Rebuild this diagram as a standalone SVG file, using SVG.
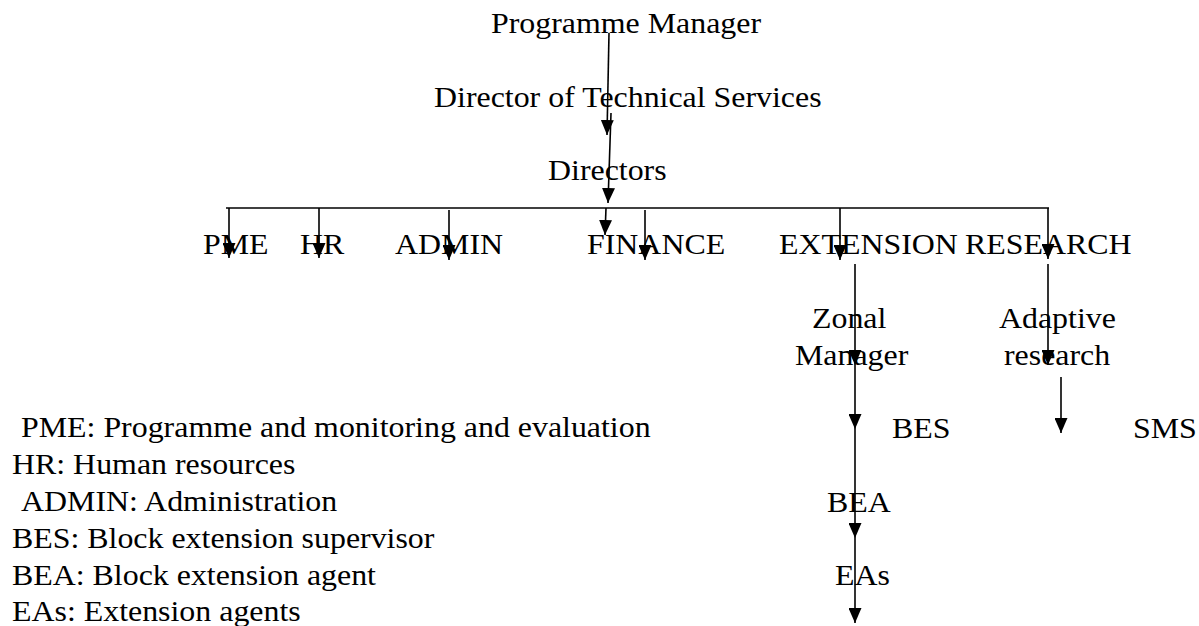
<svg xmlns="http://www.w3.org/2000/svg" width="1199" height="626" viewBox="0 0 1199 626">
<style>
text{font-family:"Liberation Serif","Times New Roman",serif;font-size:29px;fill:#000}
.c{stroke:#000;stroke-width:1.6;fill:none}
.a{marker-end:url(#ah)}
</style>
<defs>
<marker id="ah" viewBox="0 0 15 13" refX="15" refY="6.5" markerWidth="15" markerHeight="13" markerUnits="userSpaceOnUse" orient="auto">
<path d="M0,0 L15,6.5 L0,13 z" fill="#000"/>
</marker>
</defs>
<rect width="1199" height="626" fill="#fff"/>
<g id="connectors">
<line class="c a" x1="609" y1="33" x2="607" y2="135"/>
<line class="c a" x1="611" y1="113" x2="608" y2="203"/>
<line class="c" x1="226" y1="208" x2="1049" y2="208"/>
<line class="c a" x1="606" y1="208" x2="605" y2="235"/>
<line class="c a" x1="229" y1="208" x2="229" y2="258"/>
<line class="c a" x1="319" y1="208" x2="319" y2="258"/>
<line class="c a" x1="449" y1="210" x2="449" y2="260"/>
<line class="c a" x1="645" y1="210" x2="645" y2="260"/>
<line class="c a" x1="840" y1="208" x2="840" y2="260"/>
<line class="c a" x1="1048" y1="208" x2="1048" y2="259"/>
<line class="c a" x1="855" y1="264" x2="855" y2="365"/>
<line class="c a" x1="855" y1="365" x2="855" y2="429"/>
<line class="c a" x1="855" y1="429" x2="855" y2="538"/>
<line class="c a" x1="855" y1="538" x2="855" y2="623"/>
<line class="c a" x1="1048" y1="264" x2="1048" y2="365"/>
<line class="c a" x1="1061" y1="377" x2="1061" y2="433"/>
</g>
<g id="programme-manager"><text transform="translate(491 33) scale(1.1 1)">Programme Manager</text></g>
<g id="director-technical"><text transform="translate(434 107) scale(1.1 1)">Director of Technical Services</text></g>
<g id="directors"><text transform="translate(548 180) scale(1.1 1)">Directors</text></g>
<g id="pme"><text transform="translate(203 254) scale(1.1 1)">PME</text></g>
<g id="hr"><text transform="translate(300 254) scale(1.1 1)">HR</text></g>
<g id="admin"><text transform="translate(395 254) scale(1.1 1)">ADMIN</text></g>
<g id="finance"><text transform="translate(587 254) scale(1.1 1)">FINANCE</text></g>
<g id="extension"><text transform="translate(779 254) scale(1.1 1)">EXTENSION</text></g>
<g id="research"><text transform="translate(965 254) scale(1.1 1)">RESEARCH</text></g>
<g id="zonal-manager"><text transform="translate(812 328) scale(1.1 1)">Zonal</text><text transform="translate(795 365) scale(1.1 1)">Manager</text></g>
<g id="adaptive-research"><text transform="translate(999 328) scale(1.1 1)">Adaptive</text><text transform="translate(1004 365) scale(1.1 1)">research</text></g>
<g id="bes"><text transform="translate(892 438) scale(1.1 1)">BES</text></g>
<g id="sms"><text transform="translate(1133 438) scale(1.1 1)">SMS</text></g>
<g id="bea"><text transform="translate(827 512) scale(1.1 1)">BEA</text></g>
<g id="eas"><text transform="translate(835 585) scale(1.1 1)">EAs</text></g>
<g id="legend">
<text transform="translate(21 437) scale(1.1 1)">PME: Programme and monitoring and evaluation</text>
<text transform="translate(12 474) scale(1.1 1)">HR: Human resources</text>
<text transform="translate(21 511) scale(1.1 1)">ADMIN: Administration</text>
<text transform="translate(12 548) scale(1.1 1)">BES: Block extension supervisor</text>
<text transform="translate(12 585) scale(1.1 1)">BEA: Block extension agent</text>
<text transform="translate(12 621) scale(1.1 1)">EAs: Extension agents</text>
</g>
</svg>
